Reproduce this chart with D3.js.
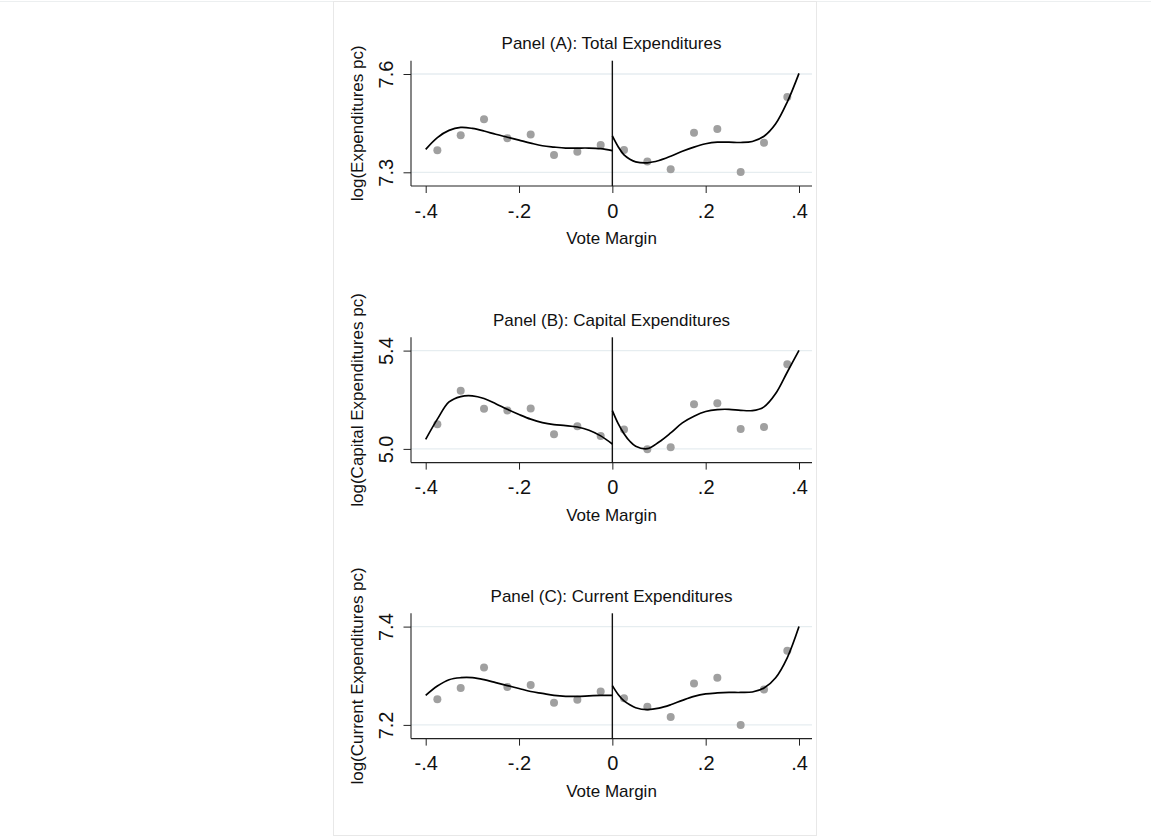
<!DOCTYPE html>
<html>
<head>
<meta charset="utf-8">
<script src="https://cdn.jsdelivr.net/npm/d3@7"></script>
<style>
  html, body { margin: 0; padding: 0; background: #ffffff; }
  svg { display: block; }
  text { font-family: "Liberation Sans", Arial, Helvetica, sans-serif; fill: #111; }
</style>
</head>
<body>
<svg id="chart" width="1151" height="838"></svg>
<script>
// Bin centres of the vote-margin scatter (bins of width 0.05)
const binCenters = [-0.375, -0.325, -0.275, -0.225, -0.175, -0.125, -0.075, -0.025,
                     0.025,  0.075,  0.125,  0.175,  0.225,  0.275,  0.325,  0.375];

// Bin means for each outcome
const totalMeans   = [7.367, 7.413, 7.462, 7.404, 7.415, 7.353, 7.363, 7.383,
                      7.368, 7.333, 7.309, 7.421, 7.432, 7.301, 7.390, 7.530];
const capitalMeans = [5.100, 5.237, 5.163, 5.156, 5.164, 5.060, 5.092, 5.053,
                      5.079, 4.999, 5.007, 5.182, 5.186, 5.081, 5.089, 5.344];
const currentMeans = [7.252, 7.275, 7.317, 7.277, 7.281, 7.245, 7.251, 7.268,
                      7.254, 7.237, 7.216, 7.284, 7.296, 7.200, 7.272, 7.351];

// Positions at which the fitted polynomials are traced, left and right of the cutoff
const fitLeftX  = [-0.4, -0.375, -0.35, -0.325, -0.3, -0.275, -0.25, -0.225, -0.2,
                   -0.175, -0.15, -0.125, -0.1, -0.075, -0.05, -0.025, 0];
const fitRightX = [0, 0.0125, 0.025, 0.0375, 0.05, 0.075, 0.1, 0.125, 0.15, 0.175,
                   0.2, 0.225, 0.25, 0.275, 0.3, 0.325, 0.35, 0.375, 0.4];

// Fitted values
const totalFitLeft    = [7.370, 7.406, 7.428, 7.437, 7.434, 7.426, 7.416, 7.407, 7.398,
                         7.389, 7.381, 7.377, 7.374, 7.374, 7.374, 7.372, 7.366];
const totalFitRight   = [7.411, 7.378, 7.353, 7.340, 7.332, 7.329, 7.336, 7.349, 7.364, 7.377,
                         7.387, 7.392, 7.392, 7.391, 7.394, 7.410, 7.448, 7.515, 7.602];
const capitalFitLeft  = [5.039, 5.121, 5.191, 5.213, 5.216, 5.205, 5.184, 5.161, 5.140,
                         5.121, 5.107, 5.099, 5.095, 5.089, 5.076, 5.053, 5.020];
const capitalFitRight = [5.156, 5.103, 5.062, 5.031, 5.011, 5.001, 5.028, 5.065, 5.106, 5.133,
                         5.152, 5.160, 5.161, 5.157, 5.156, 5.171, 5.225, 5.313, 5.401];
const currentFitLeft  = [7.260, 7.279, 7.292, 7.296, 7.296, 7.292, 7.286, 7.280, 7.274,
                         7.268, 7.264, 7.260, 7.258, 7.258, 7.259, 7.260, 7.260];
const currentFitRight = [7.280, 7.262, 7.249, 7.241, 7.235, 7.231, 7.234, 7.241, 7.250, 7.258,
                         7.263, 7.265, 7.266, 7.266, 7.267, 7.275, 7.296, 7.337, 7.400];

// Axis ticks and labels
const xTickValues = [-0.4, -0.2, 0, 0.2, 0.4];
const xTickLabels = ["-.4", "-.2", "0", ".2", ".4"];
const totalYTicks   = [7.3, 7.6];
const totalYLabels  = ["7.3", "7.6"];
const capitalYTicks  = [5.0, 5.4];
const capitalYLabels = ["5.0", "5.4"];
const currentYTicks  = [7.2, 7.4];
const currentYLabels = ["7.2", "7.4"];

// Titles
const panelTitles = ["Panel (A): Total Expenditures",
                     "Panel (B): Capital Expenditures",
                     "Panel (C): Current Expenditures"];
const yTitles = ["log(Expenditures pc)",
                 "log(Capital Expenditures pc)",
                 "log(Current Expenditures pc)"];
const xTitle = "Vote Margin";

const panels = [
  { title: panelTitles[0], yTitle: yTitles[0], means: totalMeans,
    fitL: totalFitLeft, fitR: totalFitRight, yTicks: totalYTicks, yLabels: totalYLabels },
  { title: panelTitles[1], yTitle: yTitles[1], means: capitalMeans,
    fitL: capitalFitLeft, fitR: capitalFitRight, yTicks: capitalYTicks, yLabels: capitalYLabels },
  { title: panelTitles[2], yTitle: yTitles[2], means: currentMeans,
    fitL: currentFitLeft, fitR: currentFitRight, yTicks: currentYTicks, yLabels: currentYLabels }
];

// ---- layout ----
const svg = d3.select("#chart");
const panelTops = [60.7, 337.3, 613.3];
const plotLeft = 411, plotRight = 812, plotH = 125.3;
const gridHi = 13.3, gridLo = 111.6;

// outer page frame
svg.append("line").attr("x1", 0).attr("x2", 1151).attr("y1", 1.5).attr("y2", 1.5)
  .attr("stroke", "#eceff0").attr("stroke-width", 1);
svg.append("rect").attr("x", 333.5).attr("y", 1.5).attr("width", 483).attr("height", 834)
  .attr("fill", "#ffffff").attr("stroke", "#e8e8e8").attr("stroke-width", 1);

const x = d3.scaleLinear().domain([-0.4, 0.4]).range([425.7, 799]);

panels.forEach((p, i) => {
  const g = svg.append("g").attr("transform", `translate(0,${panelTops[i]})`);
  const y = d3.scaleLinear().domain(p.yTicks).range([gridLo, gridHi]);

  // horizontal grid lines at the labelled ticks
  g.selectAll("line.grid").data(p.yTicks).join("line")
    .attr("class", "grid")
    .attr("x1", plotLeft).attr("x2", plotRight)
    .attr("y1", d => y(d)).attr("y2", d => y(d))
    .attr("stroke", "#e6edf0").attr("stroke-width", 1.3);

  // y axis
  const yAxis = d3.axisLeft(y).tickValues(p.yTicks)
    .tickFormat((d, k) => p.yLabels[k]).tickSize(7.5).tickSizeOuter(0);
  const ya = g.append("g").attr("transform", `translate(${plotLeft},0)`).call(yAxis);
  ya.select(".domain").remove();
  ya.selectAll(".tick line").attr("stroke", "#222").attr("stroke-width", 1);
  ya.selectAll(".tick text")
    .attr("x", null).attr("dy", null)
    .attr("transform", "translate(-18,0) rotate(-90)")
    .attr("text-anchor", "middle")
    .style("font-size", "20px")
    .attr("fill", "#111");
  g.append("line").attr("x1", plotLeft).attr("x2", plotLeft)
    .attr("y1", 0).attr("y2", plotH).attr("stroke", "#222").attr("stroke-width", 1.1);

  // x axis
  const xAxis = d3.axisBottom(x).tickValues(xTickValues)
    .tickFormat((d, k) => xTickLabels[k]).tickSize(7).tickSizeOuter(0);
  const xa = g.append("g").attr("transform", `translate(0,${plotH})`).call(xAxis);
  xa.select(".domain").remove();
  xa.selectAll(".tick line").attr("stroke", "#222").attr("stroke-width", 1);
  xa.selectAll(".tick text")
    .attr("y", 31.5).attr("dy", null)
    .style("font-size", "20px")
    .attr("fill", "#111");
  g.append("line").attr("x1", plotLeft).attr("x2", plotRight)
    .attr("y1", plotH).attr("y2", plotH).attr("stroke", "#222").attr("stroke-width", 1.1);

  // cutoff line at zero
  g.append("line").attr("x1", x(0)).attr("x2", x(0))
    .attr("y1", 0).attr("y2", plotH).attr("stroke", "#111").attr("stroke-width", 1.4);

  // binned means
  g.selectAll("circle.bin").data(p.means).join("circle")
    .attr("class", "bin")
    .attr("cx", (d, k) => x(binCenters[k]))
    .attr("cy", d => y(d))
    .attr("r", 4)
    .attr("fill", "#a0a0a0");

  // fitted polynomials on each side of the cutoff
  const line = d3.line().x(d => x(d[0])).y(d => y(d[1])).curve(d3.curveCatmullRom.alpha(0.5));
  [[fitLeftX, p.fitL], [fitRightX, p.fitR]].forEach(([xs, ys]) => {
    g.append("path")
      .datum(xs.map((v, k) => [v, ys[k]]))
      .attr("d", line)
      .attr("fill", "none")
      .attr("stroke", "#000")
      .attr("stroke-width", 1.7)
      .attr("stroke-linejoin", "round");
  });

  // titles
  g.append("text").attr("x", (plotLeft + plotRight) / 2).attr("y", -11.7)
    .attr("text-anchor", "middle").style("font-size", "17px").text(p.title);
  g.append("text").attr("x", (plotLeft + plotRight) / 2).attr("y", plotH + 58)
    .attr("text-anchor", "middle").style("font-size", "17px").text(xTitle);
  g.append("text")
    .attr("transform", `translate(363.3,${plotH / 2}) rotate(-90)`)
    .attr("text-anchor", "middle").style("font-size", "17px").text(p.yTitle);
});
</script>
</body>
</html>
